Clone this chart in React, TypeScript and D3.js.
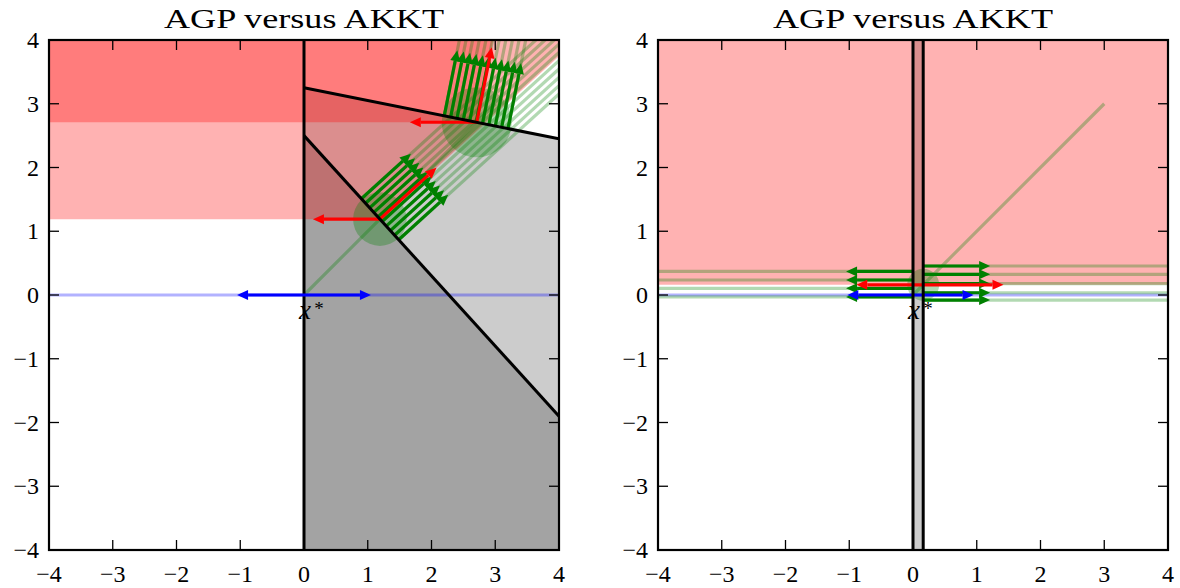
import React, { useEffect, useRef } from 'react';
import * as d3 from 'd3';

const ticks = [-4, -3, -2, -1, 0, 1, 2, 3, 4];
const title = 'AGP versus AKKT';

// left panel: the two slanted constraint lines (end points, x from 0 to 4)
const line1 = [[0, 3.25], [4, 2.45]];
const line2 = [[0, 2.5], [4, -1.9]];
// iterates on the path y = x, and the radius of their neighbourhood
const leftIterates = [[1.19, 1.19], [2.71, 2.71]];
const leftRadii = [0.42, 0.55];
// tails of the green gradients, taken on the constraint lines
const lowerTailsX = [0.9, 0.965, 1.03, 1.095, 1.16, 1.225, 1.29, 1.355, 1.42, 1.485];
const upperTailsX = [2.2, 2.3, 2.4, 2.5, 2.6, 2.7, 2.8, 2.9, 3.0, 3.1, 3.2];
const pathEnd = [3, 3];

// right panel
const stripX = [0, 0.16];
const rightIterate = [0.16, 0.16];
const rightRadius = 0.25;
const leftArrowYs = [0.37, 0.235, 0.105, -0.03];
const rightArrowYs = [0.455, 0.325, 0.18, 0.035, -0.08];
const rightBlueEnds = [-1.03, 0.95];

const gradLen = 1.05;
const redGradLen = 1.2;
const fLen = 1.05;

const W = 510;
const H = 510;
const TOP = 40;
const FONT = '"Liberation Serif", "DejaVu Serif", serif';

type Pt = number[];

const App = () => {
  const svgRef = useRef<SVGSVGElement>(null);

  useEffect(() => {
    const svg = d3.select(svgRef.current);
    svg.selectAll('*').remove();

    const arrow = (g: any, x: any, y: any, p0: Pt, p1: Pt, color: string, hl = 11, hw = 5, sw = 3.2) => {
      const X0 = x(p0[0]), Y0 = y(p0[1]), X1 = x(p1[0]), Y1 = y(p1[1]);
      const L = Math.hypot(X1 - X0, Y1 - Y0);
      const ux = (X1 - X0) / L, uy = (Y1 - Y0) / L;
      const bx = X1 - ux * hl, by = Y1 - uy * hl;
      g.append('line')
        .attr('x1', X0).attr('y1', Y0).attr('x2', bx).attr('y2', by)
        .attr('stroke', color).attr('stroke-width', sw);
      g.append('polygon')
        .attr('points', [[X1, Y1], [bx - uy * hw, by + ux * hw], [bx + uy * hw, by - ux * hw]].map(p => p.join(',')).join(' '))
        .attr('fill', color);
    };

    const panel = (left: number, id: string) => {
      const x = d3.scaleLinear().domain([-4, 4]).range([left, left + W]);
      const y = d3.scaleLinear().domain([-4, 4]).range([TOP + H, TOP]);
      svg.append('clipPath').attr('id', id)
        .append('rect').attr('x', left).attr('y', TOP).attr('width', W).attr('height', H);
      const g = svg.append('g').attr('clip-path', `url(#${id})`);
      return { x, y, g, left };
    };

    const poly = (g: any, x: any, y: any, pts: Pt[], fill: string, op: number) =>
      g.append('polygon')
        .attr('points', pts.map(p => `${x(p[0])},${y(p[1])}`).join(' '))
        .attr('fill', fill).attr('fill-opacity', op);

    const faint = (g: any, x: any, y: any, p0: Pt, p1: Pt, color: string) =>
      g.append('line')
        .attr('x1', x(p0[0])).attr('y1', y(p0[1])).attr('x2', x(p1[0])).attr('y2', y(p1[1]))
        .attr('stroke', color).attr('stroke-opacity', 0.3).attr('stroke-width', 3.2);

    const frame = (x: any, y: any, left: number) => {
      const a = svg.append('g');
      ticks.forEach(t => {
        a.append('line').attr('x1', x(t)).attr('x2', x(t)).attr('y1', TOP + H).attr('y2', TOP + H - 10)
          .attr('stroke', '#000').attr('stroke-width', 1.3);
        a.append('line').attr('x1', x(t)).attr('x2', x(t)).attr('y1', TOP).attr('y2', TOP + 10)
          .attr('stroke', '#000').attr('stroke-width', 1.3);
        a.append('line').attr('y1', y(t)).attr('y2', y(t)).attr('x1', left).attr('x2', left + 10)
          .attr('stroke', '#000').attr('stroke-width', 1.3);
        a.append('line').attr('y1', y(t)).attr('y2', y(t)).attr('x1', left + W).attr('x2', left + W - 10)
          .attr('stroke', '#000').attr('stroke-width', 1.3);
        const lab = t < 0 ? `\u2212${-t}` : `${t}`;
        a.append('text').attr('x', x(t)).attr('y', TOP + H + 32).attr('text-anchor', 'middle')
          .attr('font-family', FONT).attr('font-size', 24).text(lab);
        a.append('text').attr('x', left - 10).attr('y', y(t) + 8).attr('text-anchor', 'end')
          .attr('font-family', FONT).attr('font-size', 24).text(lab);
      });
      a.append('rect').attr('x', left).attr('y', TOP).attr('width', W).attr('height', H)
        .attr('fill', 'none').attr('stroke', '#000').attr('stroke-width', 2.2);
      a.append('text').attr('x', left + W / 2).attr('y', 28).attr('text-anchor', 'middle')
        .attr('font-family', FONT).attr('font-size', 28)
        .attr('textLength', 280).attr('lengthAdjust', 'spacingAndGlyphs').text(title);
    };

    const xstar = (x: any, y: any) => {
      svg.append('text').attr('x', x(0) + 1).attr('y', y(0) + 24).attr('text-anchor', 'middle')
        .attr('font-family', FONT).attr('font-style', 'italic').attr('font-size', 27).text('x');
      svg.append('text').attr('x', x(0) + 15).attr('y', y(0) + 20).attr('text-anchor', 'middle')
        .attr('font-family', FONT).attr('font-size', 19).text('*');
    };

    // ---------- left panel ----------
    {
      const { x, y, g, left } = panel(49, 'clipL');
      const onLine = (ln: number[][], xv: number) => ln[0][1] + (ln[1][1] - ln[0][1]) * (xv - ln[0][0]) / (ln[1][0] - ln[0][0]);
      const normal = (ln: number[][]) => {
        const s = (ln[1][1] - ln[0][1]) / (ln[1][0] - ln[0][0]);
        const n = Math.hypot(s, 1);
        return [-s / n, 1 / n];
      };
      const n1 = normal(line1), n2 = normal(line2);

      // feasible sets (grey)
      poly(g, x, y, [[0, -4], line1[0], line1[1], [4, -4]], '#000', 0.2);
      poly(g, x, y, [[0, -4], line2[0], line2[1], [4, -4]], '#000', 0.2);

      // red regions at each iterate
      const dirs = [n2, n1];
      leftIterates.forEach((p, i) => {
        const d = dirs[i];
        const far = [p[0] + 8 * d[0], p[1] + 8 * d[1]];
        poly(g, x, y, [[-5, p[1]], p, far, [-5, far[1]]], '#f00', 0.3);
      });

      // faint lines
      faint(g, x, y, [-4, 0], [4, 0], '#00f');
      faint(g, x, y, [0, 0], pathEnd, 'green');
      lowerTailsX.forEach(tx => {
        const t = [tx, onLine(line2, tx)];
        faint(g, x, y, t, [t[0] + 8 * n2[0], t[1] + 8 * n2[1]], 'green');
      });
      upperTailsX.forEach(tx => {
        const t = [tx, onLine(line1, tx)];
        faint(g, x, y, t, [t[0] + 8 * n1[0], t[1] + 8 * n1[1]], 'green');
      });

      // neighbourhoods
      leftIterates.forEach((p, i) => {
        g.append('circle').attr('cx', x(p[0])).attr('cy', y(p[1]))
          .attr('r', x(leftRadii[i]) - x(0)).attr('fill', 'green').attr('fill-opacity', 0.3);
      });

      // green gradients
      lowerTailsX.forEach(tx => {
        const t = [tx, onLine(line2, tx)];
        arrow(g, x, y, t, [t[0] + gradLen * n2[0], t[1] + gradLen * n2[1]], 'green');
      });
      upperTailsX.forEach(tx => {
        const t = [tx, onLine(line1, tx)];
        arrow(g, x, y, t, [t[0] + gradLen * n1[0], t[1] + gradLen * n1[1]], 'green');
      });

      // red arrows at iterates
      leftIterates.forEach((p, i) => {
        const d = dirs[i];
        arrow(g, x, y, p, [p[0] - fLen, p[1]], '#f00');
        arrow(g, x, y, p, [p[0] + redGradLen * d[0], p[1] + redGradLen * d[1]], '#f00');
      });

      // constraint lines
      const lg = d3.line<number[]>().x(d => x(d[0])).y(d => y(d[1]));
      [[[0, -4], [0, 4]], line1, line2].forEach(seg => {
        g.append('path').attr('d', lg(seg)).attr('stroke', '#000').attr('stroke-width', 3).attr('fill', 'none');
      });

      // objective at x*
      arrow(g, x, y, [0, 0], [-fLen, 0], '#00f');
      arrow(g, x, y, [0, 0], [fLen, 0], '#00f');

      xstar(x, y);
      frame(x, y, left);
    }

    // ---------- right panel ----------
    {
      const { x, y, g, left } = panel(658, 'clipR');

      poly(g, x, y, [[stripX[0], -4], [stripX[0], 4], [stripX[1], 4], [stripX[1], -4]], '#000', 0.2);
      poly(g, x, y, [[-4, rightIterate[1]], [4, rightIterate[1]], [4, 4], [-4, 4]], '#f00', 0.3);

      faint(g, x, y, [-4, 0], [4, 0], '#00f');
      faint(g, x, y, [0, 0], pathEnd, 'green');
      leftArrowYs.forEach(v => faint(g, x, y, [stripX[0], v], [-4, v], 'green'));
      rightArrowYs.forEach(v => faint(g, x, y, [stripX[1], v], [4, v], 'green'));

      g.append('circle').attr('cx', x(rightIterate[0])).attr('cy', y(rightIterate[1]))
        .attr('r', x(rightRadius) - x(0)).attr('fill', 'green').attr('fill-opacity', 0.3);

      leftArrowYs.forEach(v => arrow(g, x, y, [stripX[0], v], [stripX[0] - gradLen, v], 'green'));
      rightArrowYs.forEach(v => arrow(g, x, y, [stripX[1], v], [stripX[1] + gradLen, v], 'green'));

      arrow(g, x, y, rightIterate, [rightIterate[0] - fLen, rightIterate[1]], '#f00');
      arrow(g, x, y, rightIterate, [rightIterate[0] + redGradLen + 0.06, rightIterate[1]], '#f00');

      arrow(g, x, y, [0, 0], [rightBlueEnds[0], 0], '#00f');
      arrow(g, x, y, [0, 0], [rightBlueEnds[1], 0], '#00f');

      stripX.forEach(v => {
        g.append('line').attr('x1', x(v)).attr('x2', x(v)).attr('y1', y(-4)).attr('y2', y(4))
          .attr('stroke', '#000').attr('stroke-width', 3);
      });

      xstar(x, y);
      frame(x, y, left);
    }
  }, []);

  return (
    <svg ref={svgRef} width={1180} height={588}
      style={{ position: 'absolute', left: 0, top: 0, background: '#fff' }} />
  );
};

export default App;
